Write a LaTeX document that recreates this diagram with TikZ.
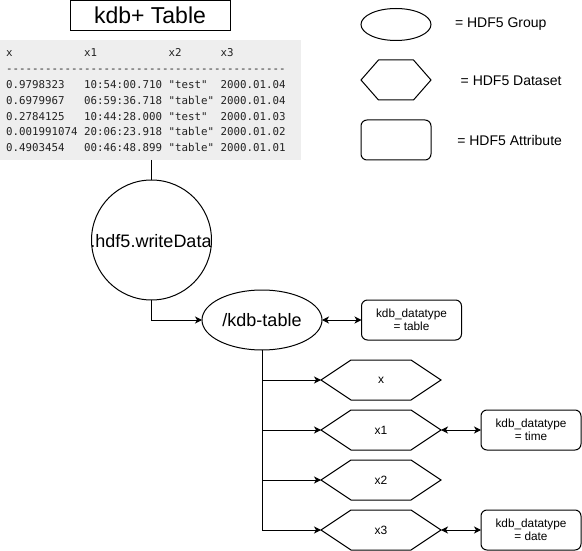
\documentclass[tikz,border=0pt]{standalone}
\usepackage{fontspec}
\setmainfont{Liberation Sans}
\setmonofont{DejaVu Sans Mono}
\usetikzlibrary{arrows.meta,shapes.geometric}
\definecolor{tablegrey}{HTML}{EEEEEE}
\definecolor{tabtext}{HTML}{222222}
\newlength{\tabcw}
\newcommand{\tabfontsel}{\ttfamily\fontsize{10.8}{12}\selectfont\settowidth{\tabcw}{0}}
\newcommand{\trow}[4]{\makebox[12\tabcw][l]{#1}\makebox[13\tabcw][l]{#2}\makebox[8\tabcw][l]{#3}#4}
\newcommand{\fs}[1]{\fontsize{#1}{#1}\selectfont}
\begin{document}
\begin{tikzpicture}[x=1pt,y=-1pt,
  every node/.style={inner sep=0pt, outer sep=0pt},
  line/.style={line width=1pt, draw=black},
  tip/.tip={Stealth[length=7pt,width=7pt,inset=2pt]},
  arr/.style={line, -tip},
  darr/.style={line, tip-tip},
  trow/.style={anchor=base west, font=\tabfontsel, text=tabtext},
  attrbox/.style={draw, line width=1pt, rounded corners=6pt, minimum width=100pt, minimum height=40pt, align=center, font=\fontsize{11.8}{13.5}\selectfont},
  hexa/.style={minimum width=120pt, minimum height=40pt, font=\fs{12}},
  legtext/.style={anchor=base west, font=\fs{14}}
]
\useasboundingbox (0,0) rectangle (582,551);

% title
\node[draw, line width=1pt, minimum width=160pt, minimum height=30pt, font=\fs{23}] (title) at (150,15.5) {kdb+ Table};

% table
\node[fill=tablegrey, minimum width=301pt, minimum height=120pt, anchor=north west] (tbl) at (0,40) {};
\node[trow] (r0) at (6,56.7) {\trow{x}{x1}{x2}{x3}};
\node[trow] (r1) at (6,72.5) {-------------------------------------------};
\node[trow] (r2) at (6,88.4) {\trow{0.9798323}{10:54:00.710}{"test"}{2000.01.04}};
\node[trow] (r3) at (6,104.2) {\trow{0.6979967}{06:59:36.718}{"table"}{2000.01.04}};
\node[trow] (r4) at (6,120.1) {\trow{0.2784125}{10:44:28.000}{"test"}{2000.01.03}};
\node[trow] (r5) at (6,135.9) {\trow{0.001991074}{20:06:23.918}{"table"}{2000.01.02}};
\node[trow] (r6) at (6,151.8) {\trow{0.4903454}{00:46:48.899}{"table"}{2000.01.01}};

% writeData circle
\node[circle, draw, line width=1pt, minimum size=120pt] (wd) at (151.5,240) {};
\node[font=\fs{18}] (wdtext) at (151,241) {.hdf5.writeData};

% group
\node[ellipse, draw, line width=1pt, minimum width=120pt, minimum height=60pt, font=\fs{18}] (grp) at (262,320) {/kdb-table};
\node[attrbox] (a0) at (411.5,320) {kdb\_datatype\\= table};

% datasets
\node[hexa] (h0) at (381,380) {x};
\node[hexa] (h1) at (381,430) {x1};
\node[hexa] (h2) at (381,480) {x2};
\node[hexa] (h3) at (381,530) {x3};
\foreach \n in {h0,h1,h2,h3}
  \draw[line] (\n.west) -- ([xshift=30pt]\n.north west) -- ([xshift=-30pt]\n.north east) -- (\n.east) -- ([xshift=-30pt]\n.south east) -- ([xshift=30pt]\n.south west) -- cycle;
\node[attrbox] (a1) at (531,430) {kdb\_datatype\\= time};
\node[attrbox] (a3) at (531,530) {kdb\_datatype\\= date};

% connectors
\draw[line] (wd.north |- tbl.south) -- (wd.north);
\draw[arr] (wd.south) |- (grp.west);
\draw[darr] (grp.east) -- (a0.west);
\draw[arr] (grp.south) |- (h3.west);
\draw[arr] (grp.south |- h0.west) -- (h0.west);
\draw[arr] (grp.south |- h1.west) -- (h1.west);
\draw[arr] (grp.south |- h2.west) -- (h2.west);
\draw[darr] (h1.east) -- (a1.west);
\draw[darr] (h3.east) -- (a3.west);

% legend
\node[ellipse, draw, line width=1pt, minimum width=70pt, minimum height=32pt] (lg) at (396,24.5) {};
\node[minimum width=70pt, minimum height=40pt] (lh) at (396,80) {};
\draw[line] (lh.west) -- ([xshift=17.5pt]lh.north west) -- ([xshift=-17.5pt]lh.north east) -- (lh.east) -- ([xshift=-17.5pt]lh.south east) -- ([xshift=17.5pt]lh.south west) -- cycle;
\node[draw, line width=1pt, rounded corners=6pt, minimum width=70pt, minimum height=40pt] (lr) at (396,140) {};
\node[legtext] (lgt) at (455,27.7) {= HDF5 Group};
\node[legtext] (lht) at (460.7,86) {= HDF5 Dataset};
\node[legtext] (lrt) at (457.3,145.7) {= HDF5 Attribute};
\end{tikzpicture}
\end{document}
